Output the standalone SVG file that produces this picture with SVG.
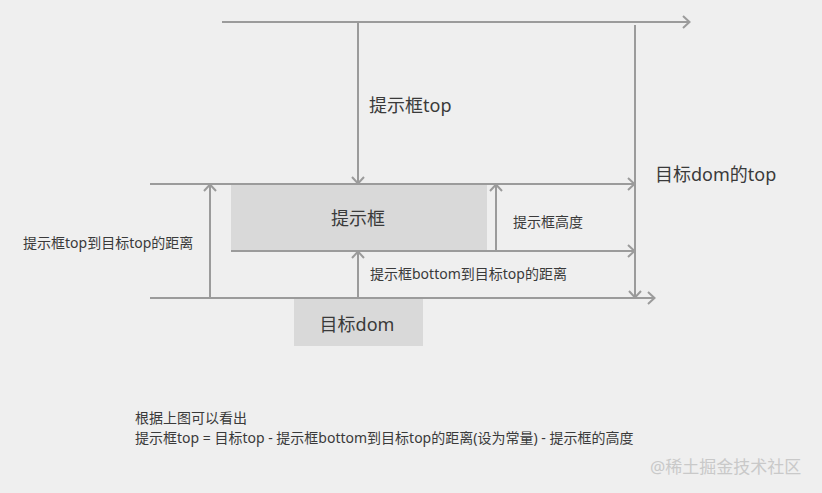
<svg xmlns="http://www.w3.org/2000/svg" width="822" height="493" viewBox="0 0 822 493">
<style>
.ln{stroke:#9b9b9b;stroke-width:2;fill:none}
.ar{marker-end:url(#arr)}
.box{fill:#d9d9d9}
text{font-family:"Noto Sans","Noto Sans CJK SC",sans-serif;fill:#3a3a3a}
.s14{font-size:14px}
.s18{font-size:18px}
</style>
<defs>
<marker id="arr" markerUnits="userSpaceOnUse" markerWidth="14" markerHeight="16" refX="9" refY="8" orient="auto">
<path d="M2,2 L8.5,8 L2,14" stroke="#9b9b9b" stroke-width="2" fill="none"/>
</marker>
</defs>
<rect width="822" height="493" fill="#efefef"/>
<g id="tooltip"><rect class="box" x="231" y="185" width="256" height="66"/><text class="s18" x="358" y="225" text-anchor="middle">提示框</text></g>
<g id="target"><rect class="box" x="294" y="299" width="129" height="47"/><text class="s18" x="357" y="331" text-anchor="middle">目标dom</text></g>
<g id="connectors">
<line class="ln ar" x1="222" y1="22" x2="690" y2="22"/>
<line class="ln ar" x1="358" y1="22" x2="358" y2="184"/>
<line class="ln ar" x1="635" y1="25" x2="635" y2="298"/>
<line class="ln ar" x1="150" y1="184" x2="635" y2="184"/>
<line class="ln ar" x1="231" y1="251" x2="635" y2="251"/>
<line class="ln ar" x1="150" y1="298" x2="655" y2="298"/>
<line class="ln ar" x1="210" y1="298" x2="210" y2="184"/>
<line class="ln ar" x1="496" y1="251" x2="496" y2="184"/>
<line class="ln ar" x1="358" y1="298" x2="358" y2="251"/>
</g>
<g id="labels">
<text class="s18" x="369" y="112">提示框top</text>
<text class="s18" x="655" y="181">目标dom的top</text>
<text class="s14" x="513" y="227">提示框高度</text>
<text class="s14" x="23" y="248">提示框top到目标top的距离</text>
<text class="s14" x="370" y="279">提示框bottom到目标top的距离</text>
<text class="s14" x="135" y="423">根据上图可以看出</text>
<text class="s14" x="135" y="443">提示框top = 目标top - 提示框bottom到目标top的距离(设为常量) - 提示框的高度</text>
<text x="650" y="473" style="font-size:17px;fill:#c9c9c9">@稀土掘金技术社区</text>
</g>
</svg>
